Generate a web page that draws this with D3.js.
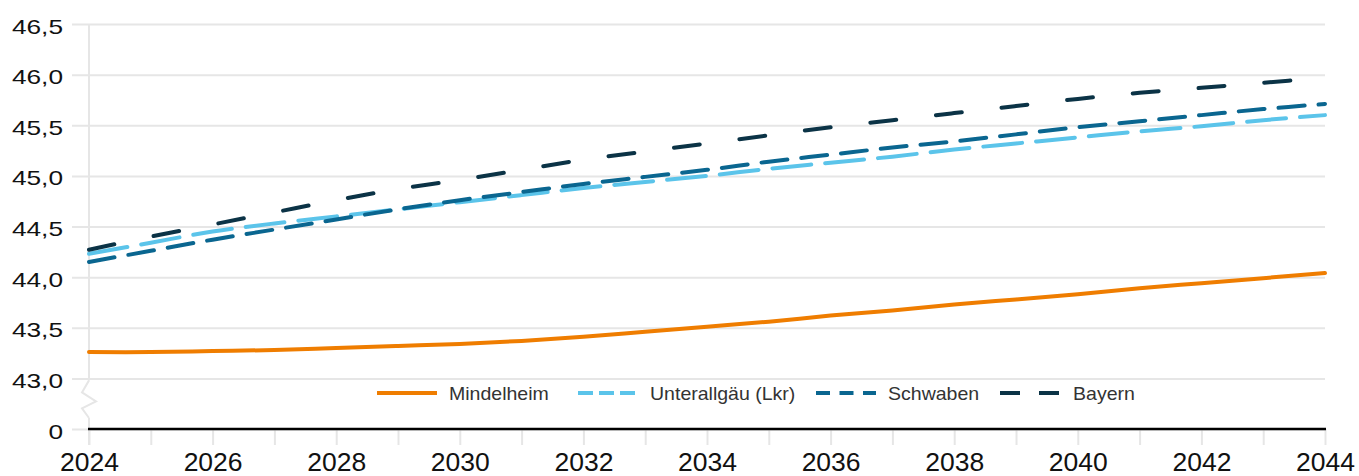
<!DOCTYPE html>
<html>
<head>
<meta charset="utf-8">
<script src="https://cdn.jsdelivr.net/npm/d3@7"></script>
<style>
  html, body { margin: 0; padding: 0; background: #fff; }
  svg { display: block; font-family: "Liberation Sans", Arial, sans-serif; }
</style>
</head>
<body>
<svg id="chart" width="1359" height="476"></svg>
<script>
const years = d3.range(2024, 2045);
const mindelheim = [43.26, 43.26, 43.27, 43.28, 43.30, 43.32, 43.34, 43.37, 43.41, 43.46, 43.51, 43.56, 43.62, 43.67, 43.73, 43.78, 43.83, 43.89, 43.94, 43.99, 44.04];
const unterallgaeu = [44.23, 44.34, 44.45, 44.53, 44.60, 44.67, 44.74, 44.81, 44.88, 44.94, 45.00, 45.07, 45.13, 45.19, 45.26, 45.32, 45.38, 45.44, 45.49, 45.55, 45.60];
const schwaben = [44.15, 44.26, 44.37, 44.47, 44.57, 44.67, 44.76, 44.84, 44.92, 44.99, 45.06, 45.14, 45.21, 45.28, 45.34, 45.41, 45.48, 45.54, 45.60, 45.66, 45.71];
const bayern = [44.27, 44.40, 44.52, 44.64, 44.76, 44.87, 44.96, 45.06, 45.16, 45.24, 45.32, 45.40, 45.48, 45.55, 45.62, 45.69, 45.76, 45.82, 45.87, 45.92, 45.97];
const seriesNames = ["Mindelheim", "Unterallgäu (Lkr)", "Schwaben", "Bayern"];
const yTickValues = [0, 43.0, 43.5, 44.0, 44.5, 45.0, 45.5, 46.0, 46.5];
const yTickLabels = ["0", "43,0", "43,5", "44,0", "44,5", "45,0", "45,5", "46,0", "46,5"];

const seriesStyles = [
  { color: "#ef7d00", dash: null, legendDash: null },
  { color: "#5bc4ea", dash: "39,14", legendDash: "15,6" },
  { color: "#0a6690", dash: "26,14", legendDash: "14,9.5" },
  { color: "#0b3346", dash: "26,40", legendDash: "20,19" }
];
const seriesData = [mindelheim, unterallgaeu, schwaben, bayern];

const svg = d3.select("#chart");
const plotLeft = 89, plotRight = 1325, plotTop = 24, plotBottom = 429;

const x = d3.scaleLinear().domain([2024, 2044]).range([plotLeft, plotRight]);
const yLin = d3.scaleLinear().domain([42.5, 46.5]).range([plotBottom, plotTop]);
// broken axis: the value 0 sits one step below 43,0
const y = v => (v < 43 ? yLin(42.5) : yLin(v));

// y gridlines + labels
const yAxis = d3.axisLeft(yLin)
  .tickValues(yTickValues.map(v => (v < 43 ? 42.5 : v)))
  .tickSize(-(plotRight - 72))
  .tickPadding(9)
  .tickFormat((d, i) => yTickLabels[i]);
const gy = svg.append("g").attr("transform", "translate(72,0)").call(yAxis);
gy.select(".domain").remove();
gy.selectAll(".tick line").attr("stroke", "#e6e6e6").attr("stroke-width", 2);
gy.selectAll(".tick text")
  .attr("font-size", 21)
  .attr("fill", "#111")
  .attr("x", -9 / 1.25)
  .attr("dy", 9)
  .attr("transform", "scale(1.25,1)");

// x ticks + labels
const xAxis = d3.axisBottom(x)
  .tickValues(years)
  .tickSize(16)
  .tickFormat(d => (d % 2 === 0 ? String(d) : ""));
const gx = svg.append("g").attr("transform", `translate(0,${plotBottom})`).call(xAxis);
gx.select(".domain").remove();
gx.selectAll(".tick line").attr("stroke", "#e6e6e6").attr("stroke-width", 2);
gx.selectAll(".tick text")
  .attr("font-size", 26.5)
  .attr("fill", "#111")
  .attr("y", 42)
  .attr("dy", 0);

// vertical axis line with break symbol
const axisColor = "#e6e6e6";
svg.append("line").attr("x1", plotLeft).attr("x2", plotLeft).attr("y1", plotTop).attr("y2", y(43) + 2)
  .attr("stroke", axisColor).attr("stroke-width", 2);
svg.append("line").attr("x1", plotLeft).attr("x2", plotLeft).attr("y1", plotBottom - 11).attr("y2", plotBottom + 16)
  .attr("stroke", axisColor).attr("stroke-width", 2);
const brk = d3.path();
brk.moveTo(plotLeft, y(43) + 2);
brk.lineTo(plotLeft - 7, y(43) + 14);
brk.lineTo(plotLeft + 7, y(43) + 23);
brk.lineTo(plotLeft - 7, y(43) + 30);
brk.lineTo(plotLeft, plotBottom - 11);
svg.append("path").attr("d", brk.toString()).attr("fill", "none")
  .attr("stroke", axisColor).attr("stroke-width", 2);

// zero line
svg.append("line").attr("x1", plotLeft - 1).attr("x2", plotRight + 1).attr("y1", y(0)).attr("y2", y(0))
  .attr("stroke", "#000").attr("stroke-width", 2.5);

// lines
const line = d3.line().x((d, i) => x(years[i])).y(d => y(d)).curve(d3.curveCatmullRom.alpha(0.5));
seriesData.forEach((data, k) => {
  const st = seriesStyles[k];
  svg.append("path")
    .datum(data)
    .attr("d", line)
    .attr("fill", "none")
    .attr("stroke", st.color)
    .attr("stroke-width", 4)
    .attr("stroke-linecap", "round")
    .attr("stroke-dasharray", st.dash);
});

// legend
const legendLineX = [377, 578, 816, 1000];
const legendTextX = [449, 650, 888, 1073];
const legendY = 393;
const lg = svg.append("g");
seriesNames.forEach((name, k) => {
  const st = seriesStyles[k];
  lg.append("line")
    .attr("x1", legendLineX[k]).attr("x2", legendLineX[k] + 60)
    .attr("y1", legendY).attr("y2", legendY)
    .attr("stroke", st.color).attr("stroke-width", 4)
    .attr("stroke-dasharray", st.legendDash);
  lg.append("text")
    .attr("transform", `translate(${legendTextX[k]},${legendY + 6.5}) scale(1.11,1)`)
    .attr("font-size", 17.6)
    .attr("fill", "#333")
    .text(name);
});
</script>
</body>
</html>
